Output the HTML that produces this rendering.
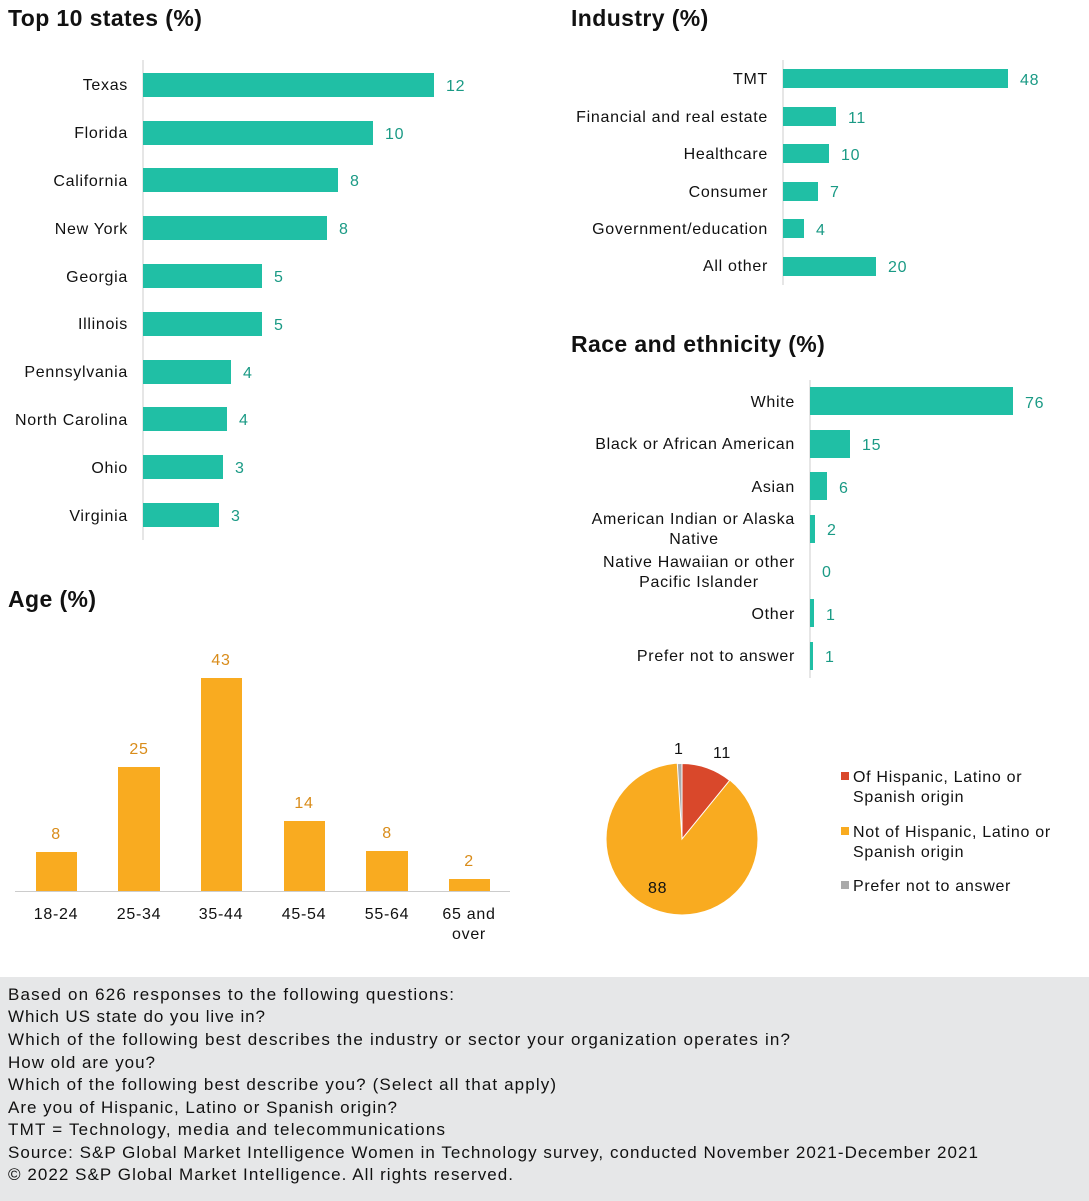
<!DOCTYPE html>
<html><head><meta charset="utf-8"><style>
body{margin:0;background:#fff;}
svg{display:block;font-family:"Liberation Sans",sans-serif;}
.l text{letter-spacing:0.7px;}
</style></head><body>
<svg width="1089" height="1201" viewBox="0 0 1089 1201">
<rect width="1089" height="1201" fill="#fff"/>
<g font-size="23" font-weight="bold" fill="#111" letter-spacing="0.4">
<text x="8" y="26">Top 10 states (%)</text>
<text x="571" y="26">Industry (%)</text>
<text x="571" y="352">Race and ethnicity (%)</text>
<text x="8" y="607">Age (%)</text>
</g>
<line x1="143" y1="60" x2="143" y2="540" stroke="#ccc"/>
<g fill="#20bfa5">
<rect x="143" y="73" width="291" height="24"/>
<rect x="143" y="121" width="230" height="24"/>
<rect x="143" y="168" width="195" height="24"/>
<rect x="143" y="216" width="184" height="24"/>
<rect x="143" y="264" width="119" height="24"/>
<rect x="143" y="312" width="119" height="24"/>
<rect x="143" y="360" width="88" height="24"/>
<rect x="143" y="407" width="84" height="24"/>
<rect x="143" y="455" width="80" height="24"/>
<rect x="143" y="503" width="76" height="24"/>
</g>
<g class="l" font-size="16" fill="#111" text-anchor="end">
<text x="128" y="90">Texas</text><text x="128" y="138">Florida</text><text x="128" y="186">California</text><text x="128" y="234">New York</text><text x="128" y="282">Georgia</text><text x="128" y="329">Illinois</text><text x="128" y="377">Pennsylvania</text><text x="128" y="425">North Carolina</text><text x="128" y="473">Ohio</text><text x="128" y="521">Virginia</text>
</g>
<g class="l" font-size="16" fill="#1a9a85">
<text x="446" y="91">12</text><text x="385" y="139">10</text><text x="350" y="186">8</text><text x="339" y="234">8</text><text x="274" y="282">5</text><text x="274" y="330">5</text><text x="243" y="378">4</text><text x="239" y="425">4</text><text x="235" y="473">3</text><text x="231" y="521">3</text>
</g>
<line x1="783" y1="60" x2="783" y2="285" stroke="#ccc"/>
<g fill="#20bfa5">
<rect x="783" y="69" width="225" height="19"/>
<rect x="783" y="107" width="53" height="19"/>
<rect x="783" y="144" width="46" height="19"/>
<rect x="783" y="182" width="35" height="19"/>
<rect x="783" y="219" width="21" height="19"/>
<rect x="783" y="257" width="93" height="19"/>
</g>
<g class="l" font-size="16" fill="#111" text-anchor="end">
<text x="768" y="84">TMT</text><text x="768" y="122">Financial and real estate</text><text x="768" y="159">Healthcare</text><text x="768" y="197">Consumer</text><text x="768" y="234">Government/education</text><text x="768" y="271">All other</text>
</g>
<g class="l" font-size="16" fill="#1a9a85">
<text x="1020" y="85">48</text><text x="848" y="123">11</text><text x="841" y="160">10</text><text x="830" y="197">7</text><text x="816" y="235">4</text><text x="888" y="272">20</text>
</g>
<line x1="810" y1="380" x2="810" y2="678" stroke="#ccc"/>
<g fill="#20bfa5">
<rect x="810" y="387" width="203" height="28"/>
<rect x="810" y="430" width="40" height="28"/>
<rect x="810" y="472" width="17" height="28"/>
<rect x="810" y="515" width="5" height="28"/>
<rect x="810" y="599" width="4" height="28"/>
<rect x="810" y="642" width="3" height="28"/>
</g>
<g class="l" font-size="16" fill="#111" text-anchor="end">
<text x="795" y="407">White</text><text x="795" y="449">Black or African American</text><text x="795" y="492">Asian</text>
<text x="795" y="524">American Indian or Alaska</text><text x="694" y="544" text-anchor="middle">Native</text>
<text x="795" y="567">Native Hawaiian or other</text><text x="699" y="587" text-anchor="middle">Pacific Islander</text>
<text x="795" y="619">Other</text><text x="795" y="661">Prefer not to answer</text>
</g>
<g class="l" font-size="16" fill="#1a9a85">
<text x="1025" y="408">76</text><text x="862" y="450">15</text><text x="839" y="493">6</text><text x="827" y="535">2</text><text x="822" y="577">0</text><text x="826" y="620">1</text><text x="825" y="662">1</text>
</g>
<line x1="15" y1="891.5" x2="510" y2="891.5" stroke="#ccc"/>
<g fill="#f9ab20">
<rect x="36" y="852" width="41" height="39"/>
<rect x="118" y="767" width="42" height="124"/>
<rect x="201" y="678" width="41" height="213"/>
<rect x="284" y="821" width="41" height="70"/>
<rect x="366" y="851" width="42" height="40"/>
<rect x="449" y="879" width="41" height="12"/>
</g>
<g class="l" font-size="16" fill="#d98c1a" text-anchor="middle">
<text x="56" y="839">8</text><text x="139" y="754">25</text><text x="221" y="665">43</text><text x="304" y="808">14</text><text x="387" y="838">8</text><text x="469" y="866">2</text>
</g>
<g class="l" font-size="16" fill="#111" text-anchor="middle">
<text x="56" y="919">18-24</text><text x="139" y="919">25-34</text><text x="221" y="919">35-44</text><text x="304" y="919">45-54</text><text x="387" y="919">55-64</text><text x="469" y="919">65 and</text><text x="469" y="939">over</text>
</g>
<circle cx="682" cy="839" r="75.5" fill="#f9ab20"/>
<path d="M682,839 L682,763.5 A75.5,75.5 0 0 1 729.6,780.4 Z" fill="#d9482b" stroke="#fff" stroke-width="1"/>
<path d="M682,839 L677.3,763.6 A75.5,75.5 0 0 1 682,763.5 Z" fill="#aaa" stroke="#fff" stroke-width="1"/>
<g class="l" font-size="16" fill="#111">
<text x="674" y="754">1</text><text x="713" y="758">11</text><text x="648" y="893">88</text>
<rect x="841" y="772" width="8" height="8" fill="#d9482b"/>
<text x="853" y="782">Of Hispanic, Latino or</text><text x="853" y="802">Spanish origin</text>
<rect x="841" y="827" width="8" height="8" fill="#f9ab20"/>
<text x="853" y="837">Not of Hispanic, Latino or</text><text x="853" y="857">Spanish origin</text>
<rect x="841" y="881" width="8" height="8" fill="#aaa"/>
<text x="853" y="891">Prefer not to answer</text>
</g>
<rect x="0" y="977" width="1089" height="224" fill="#e6e7e8"/>
<g font-size="17" fill="#111" lengthAdjust="spacing">
<text x="8" y="1000" textLength="446">Based on 626 responses to the following questions:</text>
<text x="8" y="1022" textLength="257">Which US state do you live in?</text>
<text x="8" y="1045" textLength="782">Which of the following best describes the industry or sector your organization operates in?</text>
<text x="8" y="1068" textLength="147">How old are you?</text>
<text x="8" y="1090" textLength="548">Which of the following best describe you? (Select all that apply)</text>
<text x="8" y="1113" textLength="389">Are you of Hispanic, Latino or Spanish origin?</text>
<text x="8" y="1135" textLength="437">TMT = Technology, media and telecommunications</text>
<text x="8" y="1158" textLength="970">Source: S&amp;P Global Market Intelligence Women in Technology survey, conducted November 2021-December 2021</text>
<text x="8" y="1180" textLength="505">© 2022 S&amp;P Global Market Intelligence. All rights reserved.</text>
</g>
</svg>
</body></html>
